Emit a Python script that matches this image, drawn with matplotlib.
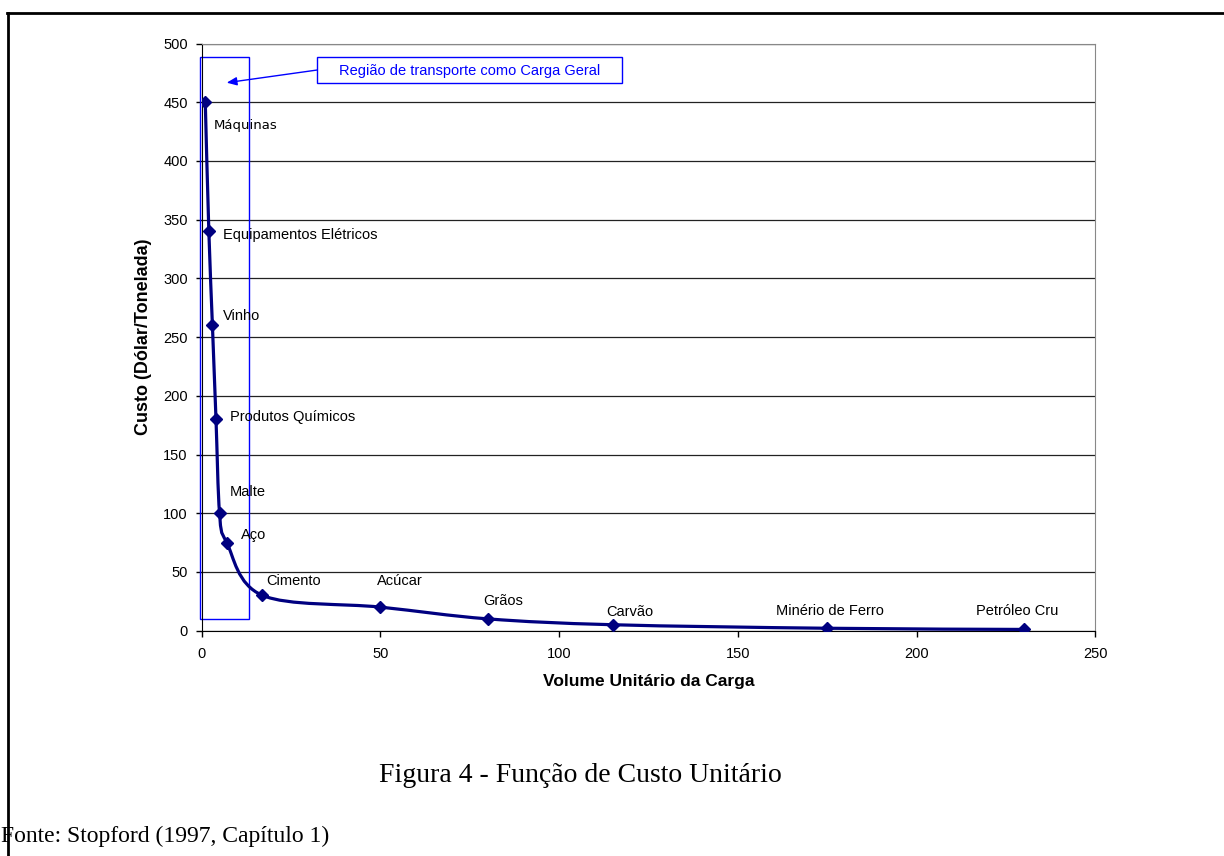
import matplotlib
matplotlib.use("Agg")
import matplotlib.pyplot as plt
from matplotlib.lines import Line2D
from matplotlib.patches import PathPatch, Rectangle
from matplotlib.path import Path

# Cargo types along the unit-cost curve
cargas = [
    "Máquinas", "Equipamentos Elétricos", "Vinho", "Produtos Químicos",
    "Malte", "Aço", "Cimento", "Acúcar", "Grãos", "Carvão",
    "Minério de Ferro", "Petróleo Cru",
]
volume = [1, 2, 3, 4, 5, 7, 17, 50, 80, 115, 175, 230]
custo = [450, 340, 260, 180, 100, 75, 30, 20, 10, 5, 2, 1]

# label offsets in pixels (dx, dy) relative to each marker
label_offsets = [
    (8, -23), (14, -4), (11, 9), (14, 2), (10, 21), (14, 8),
    (4, 14), (-3, 26), (-4, 18), (-7, 13), (-51, 17), (-48, 18),
]

x_ticks = [0, 50, 100, 150, 200, 250]
y_ticks = list(range(0, 501, 50))

NAVY = "#000080"
BLUE = "#0000FF"

plt.rcParams["font.family"] = ["Liberation Sans", "DejaVu Sans"]

fig = plt.figure(figsize=(12.24, 8.56), dpi=100)
ax = fig.add_axes([201.7 / 1224, 1 - 630.6 / 856, (1095.3 - 201.7) / 1224, (630.6 - 43.6) / 856])

ax.set_xlim(0, 250)
ax.set_ylim(0, 500)
ax.set_xticks(x_ticks)
ax.set_yticks(y_ticks)
ax.tick_params(direction="out", length=4, width=1, labelsize=10.5, colors="black")
ax.tick_params(axis="x", pad=8)
ax.tick_params(axis="y", pad=6)
for side in ("top", "right"):
    ax.spines[side].set_color("#888888")
for side in ("left", "bottom"):
    ax.spines[side].set_color("black")
ax.yaxis.grid(True, color="#222222", linewidth=0.9)
ax.set_axisbelow(True)

ax.set_xlabel("Volume Unitário da Carga", fontsize=12.5, fontweight="bold", labelpad=9)
ax.set_ylabel("Custo (Dólar/Tonelada)", fontsize=13, fontweight="bold", labelpad=8)

# smoothed line through the points (cardinal spline as cubic Bezier segments)
pts = list(zip(volume, custo))
verts = [pts[0]]
codes = [Path.MOVETO]
for i in range(len(pts) - 1):
    p0 = pts[i - 1] if i > 0 else pts[i]
    p1 = pts[i]
    p2 = pts[i + 1]
    p3 = pts[i + 2] if i + 2 < len(pts) else pts[i + 1]
    c1 = (p1[0] + (p2[0] - p0[0]) / 6, p1[1] + (p2[1] - p0[1]) / 6)
    c2 = (p2[0] - (p3[0] - p1[0]) / 6, p2[1] - (p3[1] - p1[1]) / 6)
    verts += [c1, c2, p2]
    codes += [Path.CURVE4] * 3
ax.add_patch(PathPatch(Path(verts, codes), facecolor="none", edgecolor=NAVY,
                       linewidth=2.3, zorder=3))
ax.plot(volume, custo, linestyle="none", marker="D", markersize=6.5,
        color=NAVY, zorder=4)

for i, (nome, x, y) in enumerate(zip(cargas, volume, custo)):
    dx, dy = label_offsets[i]
    fam = ["DejaVu Sans"] if i == 0 else ["Liberation Sans"]
    ax.annotate(nome, (x, y), xytext=(dx, dy), textcoords="offset pixels",
                ha="left", va="center", fontsize=9.5 if i == 0 else 10.5,
                family=fam, zorder=5)

# general cargo region and its callout
ax.add_patch(Rectangle((-0.5, 9.6), 13.8, 479.2, facecolor="none",
                       edgecolor=BLUE, linewidth=1, clip_on=False, zorder=2))
ax.add_patch(Rectangle((32.3, 466.2), 85.2, 22.1, facecolor="white",
                       edgecolor=BLUE, linewidth=1, zorder=5))
ax.text(74.9, 476.3, "Região de transporte como Carga Geral", color=BLUE,
        fontsize=10.5, ha="center", va="center", zorder=6)
ax.annotate("", xy=(7.0, 466.7), xytext=(32.3, 477.5),
            arrowprops=dict(arrowstyle="-|>,head_length=0.6,head_width=0.25",
                            color=BLUE, lw=1, shrinkA=0, shrinkB=0), zorder=6)

# page frame, caption and source
fig.add_artist(Line2D([7 / 1224, 1], [1 - 13 / 856] * 2, color="black", linewidth=2))
fig.add_artist(Line2D([8 / 1224] * 2, [0, 1 - 13 / 856], color="black", linewidth=2))
fig.text(580 / 1224, 1 - 775 / 856, "Figura 4 - Função de Custo Unitário",
         family="Liberation Serif", fontsize=20, ha="center", va="center")
fig.text(1 / 1224, 1 - 836 / 856, "Fonte: Stopford (1997, Capítulo 1)",
         family="Liberation Serif", fontsize=17, ha="left", va="center")

fig.savefig("out.png", dpi=100)
